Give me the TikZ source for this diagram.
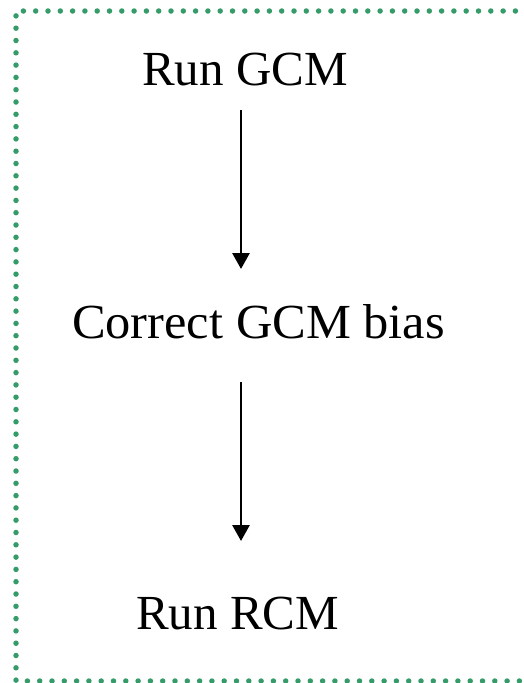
\documentclass[tikz,border=0pt]{standalone}
\usepackage{fontspec}
\setmainfont{Liberation Serif}
\usetikzlibrary{arrows.meta}
\definecolor{framegreen}{RGB}{52,155,105}
\tikzset{
  label text/.style={font=\fontsize{49}{58}\selectfont, anchor=base, inner sep=0pt},
  flow arrow/.style={line width=2.8pt, -{Triangle[width=17pt,length=16pt]}},
  dotted frame/.style={draw=framegreen, line width=5.5pt, line cap=round, dash pattern=on 0pt off 12.3pt}
}
\begin{document}
\begin{tikzpicture}[x=1pt,y=-1pt]
\useasboundingbox (0,0) rectangle (523,683);
\draw[dotted frame] (540,11) -- (16,11) -- (16,681) -- (540,681);
\node[label text] (gcm) at (245,85) {Run GCM};
\node[label text] (bias) at (258.5,338) {\scalebox{1.03}[1]{Correct GCM bias}};
\node[label text] (rcm) at (237.5,629) {Run RCM};
\coordinate (a1s) at (241,110);
\coordinate (a1e) at (241,269);
\coordinate (a2s) at (241,382);
\coordinate (a2e) at (241,541);
\draw[flow arrow] (a1s) -- (a1e);
\draw[flow arrow] (a2s) -- (a2e);
\end{tikzpicture}
\end{document}
